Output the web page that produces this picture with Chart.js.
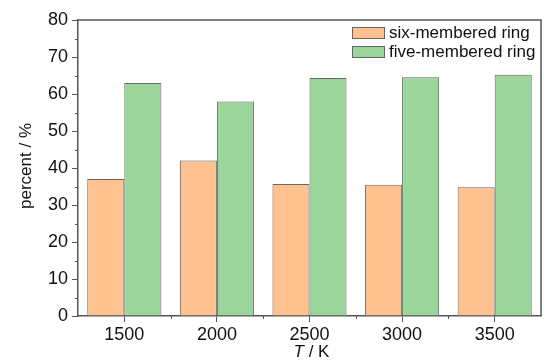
<!DOCTYPE html>
<html>
<head>
<meta charset="utf-8">
<script src="https://cdn.jsdelivr.net/npm/chart.js@4/dist/chart.umd.min.js"></script>
<style>
    html, body { margin: 0; padding: 0; background: #fff; }
</style>
</head>
<body>
<canvas id="graficoAnillos" width="544" height="360"></canvas>
<script>
// Datos
const TEMPERATURAS = ['1500', '2000', '2500', '3000', '3500'];
const ANILLO_SEIS = [37.0, 42.0, 35.7, 35.5, 34.8];
const ANILLO_CINCO = [63.0, 58.0, 64.3, 64.5, 65.2];
const NOMBRES_SERIES = ['six-membered ring', 'five-membered ring'];
const Y_MIN = 0;
const Y_MAX = 80;
const Y_PASO = 10;

const FUENTE = "'Liberation Sans', Arial, sans-serif";
const COLOR_EJE = '#555';

// Marco, ticks menores, títulos de ejes y leyenda
const extrasPlugin = {
    id: 'extras',
    afterDraw(chart) {
        const ctx = chart.ctx;
        const area = chart.chartArea;
        const xS = chart.scales.x;
        const yS = chart.scales.y;

        ctx.save();
        ctx.strokeStyle = COLOR_EJE;
        ctx.lineWidth = 1.5;
        ctx.beginPath();
        ctx.moveTo(area.left, area.top);
        ctx.lineTo(area.right, area.top);
        ctx.lineTo(area.right, area.bottom);
        ctx.stroke();

        // ticks menores eje y
        ctx.lineWidth = 1;
        ctx.beginPath();
        for (let v = Y_MIN + Y_PASO / 2; v < Y_MAX; v += Y_PASO) {
            const y = Math.round(yS.getPixelForValue(v)) + 0.5;
            ctx.moveTo(area.left - 3, y);
            ctx.lineTo(area.left, y);
        }
        // ticks menores eje x (entre categorías)
        for (let i = 0; i < TEMPERATURAS.length - 1; i++) {
            const x = Math.round((xS.getPixelForValue(i) + xS.getPixelForValue(i + 1)) / 2) + 0.5;
            ctx.moveTo(x, area.bottom);
            ctx.lineTo(x, area.bottom + 3);
        }
        ctx.stroke();

        // título eje y
        ctx.fillStyle = '#111';
        ctx.font = '17px ' + FUENTE;
        ctx.textAlign = 'center';
        ctx.textBaseline = 'middle';
        ctx.save();
        ctx.translate(26, (area.top + area.bottom) / 2 - 2);
        ctx.rotate(-Math.PI / 2);
        ctx.fillText('percent / %', 0, 0);
        ctx.restore();

        // título eje x: T en cursiva
        ctx.textAlign = 'left';
        const fItal = 'italic 17px ' + FUENTE;
        const fNorm = '17px ' + FUENTE;
        ctx.font = fItal;
        const wT = ctx.measureText('T').width;
        ctx.font = fNorm;
        const wR = ctx.measureText(' / K').width;
        let x0 = (area.left + area.right) / 2 + 2 - (wT + wR) / 2;
        const yT = 352;
        ctx.font = fItal;
        ctx.fillText('T', x0, yT);
        ctx.font = fNorm;
        ctx.fillText(' / K', x0 + wT, yT);

        // leyenda
        ctx.font = '17px ' + FUENTE;
        chart.data.datasets.forEach((ds, i) => {
            const bx = 352, by = 27 + i * 19;
            ctx.fillStyle = ds.backgroundColor;
            ctx.fillRect(bx, by, 33, 12);
            ctx.strokeStyle = ds.borderColor;
            ctx.lineWidth = 1;
            ctx.strokeRect(bx + 0.5, by + 0.5, 32, 11);
            ctx.fillStyle = '#111';
            ctx.fillText(ds.label, bx + 37, by + 6);
        });
        ctx.restore();
    }
};

const grafico = new Chart(document.getElementById('graficoAnillos'), {
    type: 'bar',
    data: {
        labels: TEMPERATURAS,
        datasets: [{
            label: NOMBRES_SERIES[0],
            data: ANILLO_SEIS,
            backgroundColor: '#FFC18F',
            borderColor: '#666',
            borderWidth: 1,
            barPercentage: 1.0,
            categoryPercentage: 0.8
        }, {
            label: NOMBRES_SERIES[1],
            data: ANILLO_CINCO,
            backgroundColor: '#9CD59B',
            borderColor: '#666',
            borderWidth: 1,
            barPercentage: 1.0,
            categoryPercentage: 0.8
        }]
    },
    options: {
        responsive: false,
        animation: false,
        events: [],
        layout: { padding: { top: 20, right: 3, left: 0, bottom: 0 } },
        plugins: {
            legend: { display: false },
            title: { display: false },
            tooltip: { enabled: false }
        },
        scales: {
            x: {
                offset: true,
                grid: {
                    offset: false,
                    drawOnChartArea: false,
                    tickLength: 6,
                    color: COLOR_EJE,
                    lineWidth: 1
                },
                border: { color: COLOR_EJE, width: 1.5 },
                ticks: { color: '#111', padding: 2, font: { family: FUENTE, size: 18 } },
                afterFit: (s) => { s.height = 44; }
            },
            y: {
                min: Y_MIN,
                max: Y_MAX,
                grid: {
                    drawOnChartArea: false,
                    tickLength: 6,
                    color: COLOR_EJE,
                    lineWidth: 1
                },
                border: { color: COLOR_EJE, width: 1.5 },
                ticks: { stepSize: Y_PASO, color: '#111', padding: 4, font: { family: FUENTE, size: 18 } },
                afterFit: (s) => { s.width = 78; }
            }
        }
    },
    plugins: [extrasPlugin]
});
</script>
</body>
</html>
